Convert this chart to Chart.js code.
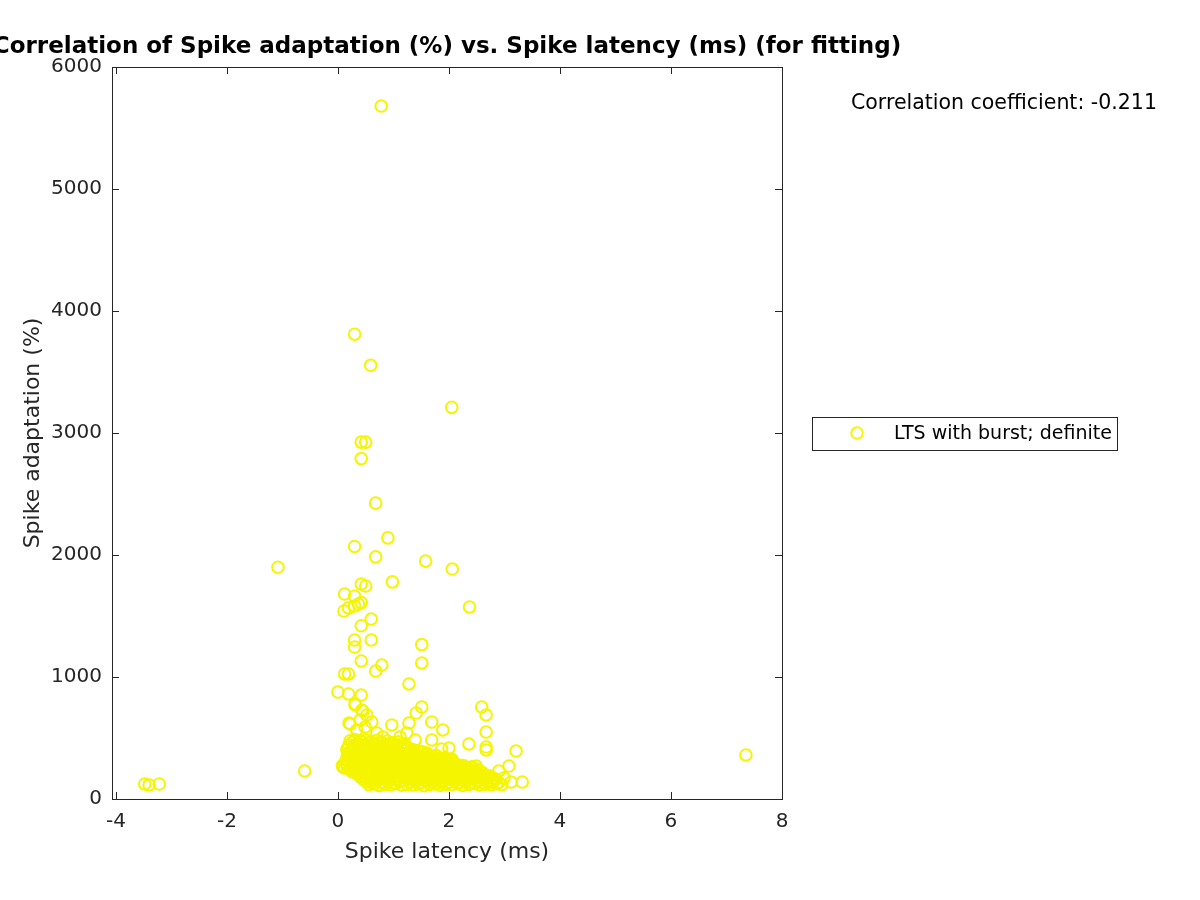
<!DOCTYPE html>
<html>
<head>
<meta charset="utf-8">
<script src="https://cdn.jsdelivr.net/npm/chart.js@4.4.1/dist/chart.umd.min.js"></script>
<style>
  html, body { margin: 0; padding: 0; background: #ffffff; }
  #wrap { width: 1200px; height: 900px; }
</style>
</head>
<body>
<div id="wrap"><canvas id="chart" width="1200" height="900"></canvas></div>
<script>
// Spike latency (ms) vs spike adaptation (%)
const titleText = 'Correlation of Spike adaptation (%) vs. Spike latency (ms) (for fitting)';
const corrText = 'Correlation coefficient: -0.211';
const seriesLabel = 'LTS with burst; definite';

const xTicks = [-4, -2, 0, 2, 4, 6, 8];
const yTicks = [0, 1000, 2000, 3000, 4000, 5000, 6000];

// isolated points, [latency, adaptation]
const outlierPoints = [
  [0.78, 5680], [0.3, 3810], [0.59, 3555], [2.05, 3210], [0.42, 2925], [0.5, 2925],
  [0.42, 2790], [0.68, 2425], [0.9, 2140], [0.3, 2070], [0.68, 1985], [-1.08, 1900],
  [1.58, 1950], [2.06, 1885], [0.98, 1780], [0.42, 1762], [0.5, 1746], [0.12, 1680],
  [0.3, 1662], [0.3, 1582], [0.37, 1598], [0.42, 1610], [0.11, 1541], [0.19, 1566],
  [2.37, 1574], [0.6, 1475], [0.42, 1420], [0.3, 1303], [0.6, 1303], [0.3, 1246],
  [1.51, 1265], [1.51, 1115], [0.79, 1098], [0.42, 1131], [0.12, 1025], [0.19, 1025],
  [0.68, 1049], [1.28, 943], [0.0, 877], [0.19, 861], [0.42, 852], [-0.6, 230],
  [7.35, 361], [-3.48, 123], [-3.4, 115], [-3.22, 123]
];

// sparse points just above the dense cluster
const fringePoints = [
  [0.31, 771], [0.45, 721], [0.2, 623], [0.97, 607], [0.61, 631], [1.28, 623],
  [1.69, 631], [1.51, 754], [1.41, 705], [1.89, 566], [2.0, 418], [1.87, 410],
  [2.05, 328], [2.49, 270], [3.08, 270], [2.9, 230], [2.99, 172], [3.12, 139],
  [3.32, 139], [2.67, 426], [2.67, 402], [2.67, 549], [2.67, 689], [2.59, 754],
  [2.36, 451], [3.21, 393], [0.09, 262], [0.08, 275], [0.12, 255], [0.31, 779],
  [0.43, 730], [0.52, 689], [0.22, 615], [0.4, 648], [0.49, 590], [0.34, 566],
  [0.7, 541], [0.81, 508], [1.12, 508], [1.24, 541], [1.39, 484], [1.69, 484],
  [1.53, 385], [1.6, 377], [2.02, 320]
];

// dense cluster, lower half (adaptation up to ~250 %)
const clusterLow = [
  [0.56, 118], [0.66, 125], [0.74, 112], [0.85, 121], [0.95, 115], [1.04, 128], [1.15, 113],
  [1.24, 120], [1.36, 116], [1.45, 124], [1.55, 110], [1.66, 119], [1.75, 126], [1.84, 114],
  [1.95, 121], [2.05, 117], [2.16, 125], [2.25, 112], [2.36, 120], [2.46, 127], [2.55, 115],
  [2.66, 122], [2.76, 118], [2.86, 126], [2.95, 117],
  [0.51, 142], [0.6, 136], [0.7, 145], [0.8, 138], [0.9, 144], [1.0, 134], [1.1, 141],
  [1.2, 147], [1.3, 137], [1.4, 143], [1.5, 135], [1.6, 146], [1.7, 139], [1.8, 133],
  [1.9, 144], [2.0, 138], [2.1, 146], [2.2, 135], [2.3, 141], [2.4, 137], [2.5, 145],
  [2.6, 134], [2.7, 142], [2.8, 138], [2.9, 135],
  [0.46, 158], [0.55, 165], [0.64, 152], [0.75, 161], [0.84, 168], [0.94, 155], [1.05, 163],
  [1.14, 150], [1.26, 166], [1.35, 157], [1.44, 162], [1.56, 154], [1.65, 167], [1.74, 159],
  [1.85, 151], [1.96, 164], [2.04, 158], [2.15, 166], [2.26, 153], [2.35, 161], [2.44, 168],
  [2.56, 155], [2.65, 162], [2.75, 150], [2.84, 160],
  [0.4, 182], [0.5, 176], [0.59, 185], [0.69, 178], [0.8, 184], [0.9, 174], [1.0, 181],
  [1.1, 187], [1.2, 177], [1.3, 183], [1.4, 175], [1.5, 186], [1.6, 179], [1.7, 173],
  [1.8, 184], [1.9, 178], [2.0, 186], [2.1, 175], [2.2, 181], [2.3, 177], [2.4, 185],
  [2.5, 174], [2.6, 182], [2.7, 176], [2.8, 171],
  [0.36, 203], [0.45, 196], [0.54, 207], [0.65, 199], [0.74, 192], [0.86, 205], [0.95, 201],
  [1.04, 194], [1.16, 208], [1.25, 198], [1.34, 203], [1.46, 191], [1.55, 206], [1.64, 197],
  [1.76, 202], [1.85, 195], [1.94, 209], [2.06, 199], [2.15, 193], [2.24, 204], [2.35, 198],
  [2.46, 190], [2.55, 201], [2.66, 196], [2.74, 188],
  [0.26, 222], [0.33, 216], [0.42, 225], [0.5, 218], [0.6, 224], [0.7, 214], [0.8, 221],
  [0.9, 227], [1.0, 217], [1.1, 223], [1.2, 215], [1.3, 226], [1.4, 219], [1.5, 213],
  [1.6, 224], [1.7, 218], [1.8, 226], [1.9, 215], [2.0, 221], [2.1, 217], [2.2, 225],
  [2.3, 214], [2.4, 220], [2.5, 212], [2.6, 216],
  [0.21, 243], [0.29, 236], [0.38, 247], [0.48, 239], [0.57, 232], [0.68, 245], [0.77, 238],
  [0.87, 249], [0.96, 236], [1.06, 242], [1.17, 234], [1.26, 248], [1.37, 240], [1.46, 233],
  [1.57, 246], [1.66, 238], [1.77, 244], [1.86, 231], [1.97, 240], [2.06, 236], [2.17, 245],
  [2.26, 229], [2.37, 238], [2.46, 226], [2.55, 232]
];

// dense cluster, upper half
const clusterHigh = [
  [0.17, 262], [0.25, 256], [0.34, 265], [0.43, 258], [0.53, 264], [0.63, 254], [0.72, 261],
  [0.82, 267], [0.92, 257], [1.02, 263], [1.12, 255], [1.22, 266], [1.32, 259], [1.42, 253],
  [1.52, 264], [1.62, 258], [1.72, 266], [1.82, 255], [1.92, 261], [2.02, 257], [2.12, 250],
  [2.22, 254], [2.32, 247], [2.42, 251], [2.5, 244],
  [0.16, 282], [0.24, 276], [0.33, 288], [0.43, 279], [0.52, 273], [0.62, 286], [0.72, 280],
  [0.81, 274], [0.91, 289], [1.01, 277], [1.11, 283], [1.2, 271], [1.31, 285], [1.41, 278],
  [1.5, 269], [1.61, 281], [1.71, 274], [1.8, 266], [1.91, 277], [2.0, 268], [2.11, 261],
  [2.21, 272], [2.31, 258], [2.41, 264],
  [0.2, 302], [0.29, 296], [0.38, 305], [0.48, 298], [0.57, 304], [0.67, 294], [0.77, 301],
  [0.86, 307], [0.96, 297], [1.06, 303], [1.16, 295], [1.26, 306], [1.36, 299], [1.46, 293],
  [1.56, 300], [1.66, 291], [1.76, 297], [1.86, 286], [1.96, 292], [2.06, 283], [2.16, 279],
  [2.26, 274],
  [0.15, 322], [0.25, 316], [0.34, 327], [0.44, 319], [0.53, 331], [0.63, 314], [0.73, 325],
  [0.82, 318], [0.92, 329], [1.02, 312], [1.12, 323], [1.21, 316], [1.31, 308], [1.41, 319],
  [1.51, 303], [1.61, 312], [1.7, 298], [1.81, 306], [1.91, 293], [2.01, 301], [2.12, 289],
  [0.2, 342], [0.3, 336], [0.39, 345], [0.49, 338], [0.58, 344], [0.68, 334], [0.78, 341],
  [0.87, 347], [0.97, 337], [1.07, 343], [1.17, 333], [1.27, 339], [1.37, 329], [1.47, 335],
  [1.57, 324], [1.67, 330], [1.77, 319], [1.87, 324], [1.97, 313], [2.06, 309],
  [0.17, 363], [0.26, 356], [0.35, 367], [0.45, 359], [0.54, 371], [0.64, 355], [0.74, 366],
  [0.83, 352], [0.93, 362], [1.03, 349], [1.13, 358], [1.22, 345], [1.32, 354], [1.42, 341],
  [1.52, 349], [1.62, 336], [1.72, 344], [1.83, 331], [1.93, 338],
  [0.21, 382], [0.3, 376], [0.4, 385], [0.49, 378], [0.59, 384], [0.69, 374], [0.78, 381],
  [0.88, 375], [0.98, 379], [1.08, 368], [1.17, 374], [1.27, 364], [1.37, 369], [1.47, 358],
  [1.57, 362], [1.67, 352], [1.77, 356],
  [0.16, 403], [0.25, 397], [0.35, 409], [0.44, 401], [0.54, 394], [0.63, 406], [0.73, 398],
  [0.83, 389], [0.92, 401], [1.02, 392], [1.12, 385], [1.21, 395], [1.31, 383], [1.41, 374],
  [1.5, 386], [1.6, 371],
  [0.18, 422], [0.27, 416], [0.37, 425], [0.46, 418], [0.56, 424], [0.66, 414], [0.75, 421],
  [0.85, 411], [0.95, 417], [1.04, 406], [1.14, 411], [1.24, 401], [1.34, 405], [1.44, 396],
  [0.2, 442], [0.3, 436], [0.39, 448], [0.49, 439], [0.58, 431], [0.68, 445], [0.78, 434],
  [0.87, 427], [0.97, 438], [1.07, 422], [1.17, 431], [1.27, 418],
  [0.25, 462], [0.35, 456], [0.45, 465], [0.54, 458], [0.64, 453], [0.74, 459], [0.84, 449],
  [0.94, 452], [1.04, 444], [1.14, 447], [1.22, 439],
  [0.22, 478], [0.31, 486], [0.41, 472], [0.5, 483], [0.6, 469], [0.7, 481], [0.79, 465],
  [0.89, 474], [0.99, 461], [1.09, 468]
];

const markerColor = '#f5f500';
const axisColor = '#262626';
const fontFamily = '"DejaVu Sans", "Liberation Sans", sans-serif';

const allPoints = outlierPoints.concat(fringePoints, clusterLow, clusterHigh)
  .map(p => ({ x: p[0], y: p[1] }));

// box, inward ticks, title, legend and the coefficient note (MATLAB look)
const matlabFrame = {
  id: 'matlabFrame',
  afterDraw(chart) {
    const { ctx, chartArea: a } = chart;
    const xs = chart.scales.x, ys = chart.scales.y;
    const tl = 7;
    ctx.save();
    ctx.strokeStyle = axisColor;
    ctx.lineWidth = 1;
    ctx.strokeRect(Math.round(a.left) + 0.5, Math.round(a.top) + 0.5,
      Math.round(a.right - a.left), Math.round(a.bottom - a.top));
    ctx.beginPath();
    xTicks.forEach(v => {
      const px = Math.round(xs.getPixelForValue(v)) + 0.5;
      ctx.moveTo(px, a.bottom); ctx.lineTo(px, a.bottom - tl);
      ctx.moveTo(px, a.top); ctx.lineTo(px, a.top + tl);
    });
    yTicks.forEach(v => {
      const py = Math.round(ys.getPixelForValue(v)) + 0.5;
      ctx.moveTo(a.left, py); ctx.lineTo(a.left + tl, py);
      ctx.moveTo(a.right, py); ctx.lineTo(a.right - tl, py);
    });
    ctx.stroke();

    // title
    ctx.fillStyle = '#000000';
    ctx.font = 'bold 23px ' + fontFamily;
    ctx.textAlign = 'center';
    ctx.textBaseline = 'middle';
    ctx.fillText(titleText, (a.left + a.right) / 2, 47);

    // correlation note
    ctx.font = '20.5px ' + fontFamily;
    ctx.textAlign = 'left';
    ctx.fillText(corrText, 851, 104);

    // legend
    ctx.fillStyle = '#ffffff';
    ctx.fillRect(812.5, 417.5, 305, 33);
    ctx.strokeStyle = axisColor;
    ctx.strokeRect(812.5, 417.5, 305, 33);
    ctx.beginPath();
    ctx.arc(857, 433, 5.8, 0, Math.PI * 2);
    ctx.strokeStyle = markerColor;
    ctx.lineWidth = 2;
    ctx.stroke();
    ctx.fillStyle = '#000000';
    ctx.font = '19px ' + fontFamily;
    ctx.textAlign = 'left';
    ctx.textBaseline = 'middle';
    ctx.fillText(seriesLabel, 894, 434);
    ctx.restore();
  }
};

const ctx = document.getElementById('chart').getContext('2d');
new Chart(ctx, {
  type: 'scatter',
  data: {
    datasets: [{
      label: seriesLabel,
      data: allPoints,
      pointStyle: 'circle',
      pointRadius: 5.8,
      pointBorderWidth: 2,
      borderColor: markerColor,
      backgroundColor: 'rgba(0,0,0,0)'
    }]
  },
  options: {
    responsive: false,
    animation: false,
    layout: { padding: { left: 0, right: 418, top: 67, bottom: 0 } },
    plugins: { legend: { display: false }, tooltip: { enabled: false } },
    scales: {
      x: {
        type: 'linear',
        min: -4.07,
        max: 8,
        grid: { display: false, drawTicks: false },
        border: { display: false },
        afterBuildTicks(scale) { scale.ticks = xTicks.map(v => ({ value: v })); },
        afterFit(scale) { scale.height = 101; },
        ticks: {
          color: axisColor,
          padding: 11,
          maxRotation: 0,
          font: { family: fontFamily, size: 20 },
          callback: v => String(v)
        },
        title: {
          display: true,
          text: 'Spike latency (ms)',
          color: axisColor,
          font: { family: fontFamily, size: 22 },
          padding: { top: 0, bottom: 35 }
        }
      },
      y: {
        type: 'linear',
        min: 0,
        max: 6000,
        grid: { display: false, drawTicks: false },
        border: { display: false },
        afterBuildTicks(scale) { scale.ticks = yTicks.map(v => ({ value: v })); },
        afterFit(scale) { scale.width = 112; },
        ticks: {
          color: axisColor,
          padding: 10,
          font: { family: fontFamily, size: 20 },
          callback: v => String(v)
        },
        title: {
          display: true,
          text: 'Spike adaptation (%)',
          color: axisColor,
          font: { family: fontFamily, size: 22 },
          padding: { top: 20, bottom: 0 }
        }
      }
    }
  },
  plugins: [matlabFrame]
});
</script>
</body>
</html>
